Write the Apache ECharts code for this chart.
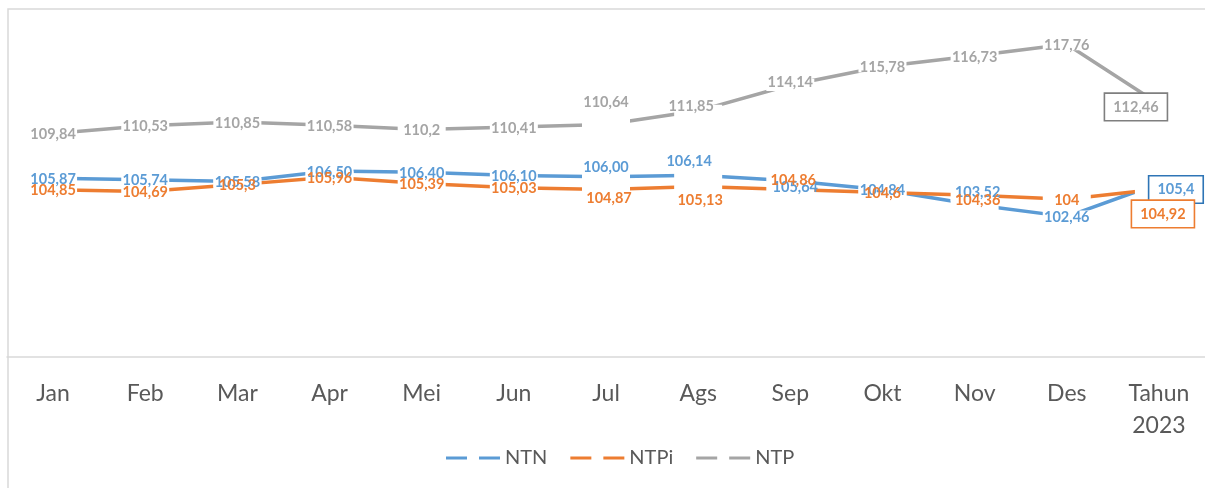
<!DOCTYPE html>
<html>
<head>
<meta charset="utf-8">
<script src="https://cdn.jsdelivr.net/npm/echarts@6/dist/echarts.min.js"></script>
<style>
  html, body { margin: 0; padding: 0; background: #fff; }
  #chart { width: 1205px; height: 488px; }
</style>
</head>
<body>
<div id="chart"></div>
<script>
// categories and values
const months = ['Jan', 'Feb', 'Mar', 'Apr', 'Mei', 'Jun', 'Jul', 'Ags', 'Sep', 'Okt', 'Nov', 'Des', 'Tahun\n2023'];
const ntn  = [105.87, 105.74, 105.58, 106.50, 106.40, 106.10, 106.00, 106.14, 105.64, 104.84, 103.52, 102.46, 105.4];
const ntpi = [104.85, 104.69, 105.3, 105.96, 105.39, 105.03, 104.87, 105.13, 104.86, 104.6, 104.36, 104, 104.92];
const ntp  = [109.84, 110.53, 110.85, 110.58, 110.2, 110.41, 110.64, 111.85, 114.14, 115.78, 116.73, 117.76, 112.46];

var chart = echarts.init(document.getElementById('chart'));

// label nudges, like the hand-moved labels in the original
var shifts = {
    NTN:  {6: [0, -9], 7: [-9, -14], 8: [5, 7], 10: [3, -12], 12: [17, 6]},
    NTPi: {6: [3, 9], 7: [2, 14], 8: [3, -9], 10: [3, 5], 12: [4, 25]},
    NTP:  {6: [0, -22], 7: [-7, -4], 8: [0, -3], 12: [-23, 3]}
};
var boxBorder = {NTN: '#2E75B6', NTPi: '#ED7D31', NTP: '#7F7F7F'};

function makeSeries(name, values, color) {
    var last = values.length - 1;
    var data = values.map(function (v, i) {
        var item = {value: v, label: {offset: shifts[name][i] || [0, 1]}};
        if (i === last) {
            item.label.backgroundColor = '#fff';
            item.label.borderColor = boxBorder[name];
            item.label.borderWidth = 1.6;
            item.label.padding = [6, 8, 5, 8];
        }
        return item;
    });
    return {
        name: name,
        type: 'line',
        data: data,
        symbol: 'rect',
        symbolSize: [48, 12],
        showAllSymbol: true,
        itemStyle: {color: '#fff', borderWidth: 0},
        lineStyle: {color: color, width: 3.5, cap: 'butt'},
        emphasis: {disabled: true},
        label: {
            show: true,
            position: 'inside',
            color: color,
            fontFamily: 'Lato',
            fontWeight: 'bold',
            fontSize: 14.5,
            formatter: function (p) {
                var v = p.value;
                var s = (name === 'NTN' && p.dataIndex < last) ? v.toFixed(2) : String(v);
                return s.replace('.', ',');
            }
        }
    };
}

var option = {
    animation: false,
    grid: {left: 7, right: 0, top: 19, bottom: 131},
    graphic: [{
        type: 'polyline',
        silent: true,
        shape: {points: [[8, 488], [8, 9], [1205, 9]]},
        style: {stroke: '#d9d9d9', lineWidth: 1.5, fill: null}
    }],
    legend: {
        left: 441,
        top: 443,
        itemWidth: 54,
        itemHeight: 3,
        itemGap: 23,
        icon: 'path://M0,0h21v3h-21zM33,0h21v3h-21z',
        textStyle: {fontFamily: 'Lato', fontSize: 20, color: '#595959'},
        data: [
            {name: 'NTN', itemStyle: {color: '#5B9BD5'}},
            {name: 'NTPi', itemStyle: {color: '#ED7D31'}},
            {name: 'NTP', itemStyle: {color: '#A5A5A5'}}
        ]
    },
    xAxis: {
        type: 'category',
        data: months,
        boundaryGap: true,
        axisLine: {lineStyle: {color: '#d9d9d9', width: 1.5}},
        axisTick: {show: false},
        axisLabel: {
            interval: 0,
            margin: 21,
            fontFamily: 'Lato',
            fontSize: 23,
            lineHeight: 32,
            color: '#595959'
        }
    },
    yAxis: {
        type: 'value',
        min: 90,
        max: 120,
        show: false,
        splitLine: {show: false}
    },
    series: [
        makeSeries('NTN', ntn, '#5B9BD5'),
        makeSeries('NTPi', ntpi, '#ED7D31'),
        makeSeries('NTP', ntp, '#A5A5A5')
    ]
};

chart.setOption(option);
</script>
</body>
</html>
